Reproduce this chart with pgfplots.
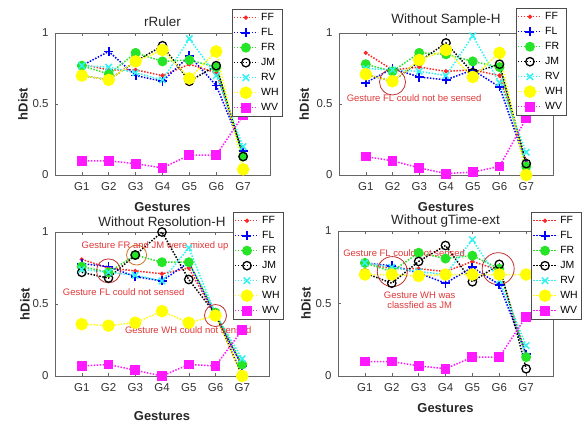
\documentclass[border=0pt]{standalone}
\usepackage{fontspec}
\setmainfont{Liberation Sans}
\usepackage{pgfplots}
\pgfplotsset{compat=1.18}
\usepackage{pgfplotstable}

\definecolor{ffc}{rgb}{1,0.15,0.15}
\definecolor{flc}{rgb}{0,0,1}
\definecolor{frc}{rgb}{0.15,0.9,0.15}
\definecolor{jmc}{rgb}{0,0,0}
\definecolor{rvc}{rgb}{0.2,0.95,0.95}
\definecolor{whc}{rgb}{1,1,0}
\definecolor{wvc}{rgb}{1,0.1,1}
\definecolor{annc}{rgb}{0.88,0.22,0.22}
\definecolor{orc}{rgb}{0.8,0.45,0.15}

\pgfplotstableread{
x FF FL FR JM RV WH WV
1 0.78 0.77 0.77 0.70 0.77 0.70 0.10
2 0.74 0.87 0.71 0.67 0.76 0.67 0.10
3 0.74 0.70 0.86 0.80 0.72 0.80 0.08
4 0.70 0.66 0.80 0.91 0.67 0.88 0.05
5 0.78 0.84 0.81 0.66 0.96 0.68 0.14
6 0.72 0.63 0.76 0.77 0.70 0.87 0.14
7 0.15 0.17 0.13 0.13 0.20 0.04 0.42
}\tabA

\pgfplotstableread{
x FF FL FR JM RV WH WV
1 0.86 0.65 0.78 0.71 0.75 0.71 0.13
2 0.74 0.75 0.73 0.66 0.74 0.66 0.10
3 0.76 0.69 0.86 0.80 0.73 0.81 0.05
4 0.73 0.67 0.85 0.93 0.70 0.88 0.01
5 0.74 0.74 0.80 0.72 0.98 0.69 0.02
6 0.70 0.62 0.76 0.78 0.65 0.86 0.06
7 0.10 0.08 0.06 0.08 0.16 0.00 0.40
}\tabB

\pgfplotstableread{
x FF FL FR JM RV WH WV
1 0.81 0.78 0.76 0.72 0.74 0.36 0.07
2 0.75 0.76 0.72 0.68 0.72 0.35 0.08
3 0.73 0.69 0.84 0.84 0.70 0.37 0.04
4 0.71 0.66 0.79 1.00 0.66 0.45 0.00
5 0.75 0.79 0.79 0.67 0.89 0.37 0.08
6 0.42 0.42 0.44 0.43 0.43 0.42 0.07
7 0.07 0.07 0.08 0.00 0.12 0.00 0.32
}\tabC

\pgfplotstableread{
x FF FL FR JM RV WH WV
1 0.78 0.78 0.78 0.71 0.78 0.70 0.10
2 0.74 0.76 0.72 0.64 0.75 0.70 0.10
3 0.74 0.71 0.85 0.79 0.72 0.69 0.07
4 0.72 0.64 0.81 0.90 0.70 0.70 0.05
5 0.79 0.75 0.83 0.65 0.94 0.70 0.13
6 0.73 0.63 0.74 0.77 0.66 0.70 0.13
7 0.15 0.15 0.13 0.05 0.21 0.70 0.41
}\tabD

\tikzset{
  ann/.style={text=annc, font=\fontsize{9.5}{10.5}\selectfont},
  circ/.style={draw=annc!85!black, line width=0.8bp},
}

\pgfplotsset{
  every axis title shift=0pt,
  dline/.style={line width=1.5bp, dash pattern=on 1.5bp off 1.5bp},
  ffs/.style={dline, color=ffc, mark=*, mark size=1.3bp, mark options={solid}},
  fls/.style={dline, color=flc, mark=+, mark size=4.5bp, mark options={solid, line width=1.8bp}},
  frs/.style={dline, color=frc, mark=*, mark size=4.2bp, mark options={solid, fill=frc}},
  jms/.style={dline, color=jmc, mark=o, mark size=4.2bp, mark options={solid, line width=1.3bp}},
  rvs/.style={dline, color=rvc, mark=x, mark size=4.5bp, mark options={solid, line width=1.5bp}},
  whs/.style={dline, color=whc, mark=*, mark size=5.5bp, mark options={solid, fill=whc}},
  wvs/.style={dline, color=wvc, mark=square*, mark size=4.2bp, mark options={solid, fill=wvc}},
  panel/.style={
    scale only axis,
    xmin=0, xmax=8, ymin=0, ymax=1,
    xtick={1,2,3,4,5,6,7}, xticklabels={G1,G2,G3,G4,G5,G6,G7},
    ytick={0,0.5,1}, yticklabels={0,0.5,1},
    tick align=inside, major tick length=3bp,
    tick style={black!60, line width=0.5bp},
    axis line style={black!60, line width=0.6bp},
    ticklabel style={font=\fontsize{11.5}{13}\selectfont, text=black!80},
    xticklabel style={yshift=-4bp},
    yticklabel style={xshift=-3bp},
    xlabel={Gestures}, ylabel={hDist},
    label style={font=\fontsize{13}{15}\selectfont\bfseries, text=black!85},
    title style={font=\fontsize{13.5}{15}\selectfont, anchor=center, text=black!85},
    legend style={font=\fontsize{10.5}{12}\selectfont, anchor=north west, draw=black!70, fill=white, inner sep=1bp,
      nodes={text height=8bp, text depth=2bp, inner sep=2.5bp}},
    legend cell align=left,
    legend image code/.code={\draw[mark repeat=2,mark phase=2] plot coordinates {(0bp,0bp) (12bp,0bp) (24bp,0bp)};},
    clip=false,
  }
}

\newcommand\plotall[1]{%
  \addplot[ffs] table[x=x,y=FF]{#1}; \addlegendentry{FF}
  \addplot[fls] table[x=x,y=FL]{#1}; \addlegendentry{FL}
  \addplot[frs] table[x=x,y=FR]{#1}; \addlegendentry{FR}
  \addplot[jms] table[x=x,y=JM]{#1}; \addlegendentry{JM}
  \addplot[rvs] table[x=x,y=RV]{#1}; \addlegendentry{RV}
  \addplot[whs] table[x=x,y=WH]{#1}; \addlegendentry{WH}
  \addplot[wvs] table[x=x,y=WV]{#1}; \addlegendentry{WV}
}

\begin{document}
\begin{tikzpicture}[x=1bp,y=1bp]
\useasboundingbox (0,0) rectangle (582,427);

% top-left
\begin{axis}[panel, at={(55bp,252bp)}, anchor=south west, width=215bp, height=142bp,
  title={rRuler}, title style={at={(axis description cs:0.5,1.08)}},
  xlabel style={at={(axis description cs:0.5,-0.225)}, anchor=center},
  ylabel style={at={(axis description cs:-0.149,0.5)}, anchor=center},
  legend style={at={(axis description cs:0.823,1.169)}}]
\plotall{\tabA}
\end{axis}

% top-right
\begin{axis}[panel, at={(339bp,252bp)}, anchor=south west, width=214bp, height=142bp,
  title={Without Sample-H}, title style={at={(axis description cs:0.5,1.09)}},
  xlabel style={at={(axis description cs:0.5,-0.225)}, anchor=center},
  ylabel style={at={(axis description cs:-0.163,0.5)}, anchor=center},
  legend style={at={(axis description cs:0.827,1.176)}}]
\plotall{\tabB}
\draw[circ] (axis cs:2,0.655) circle[radius=13bp];
\node[ann] at (axis cs:2.81,0.54) {Gesture FL could not be sensed};
\end{axis}

% bottom-left
\begin{axis}[panel, at={(55bp,51bp)}, anchor=south west, width=214bp, height=144bp,
  title={Without Resolution-H}, title style={at={(axis description cs:0.5,1.07)}},
  xlabel style={at={(axis description cs:0.5,-0.278)}, anchor=center},
  ylabel style={at={(axis description cs:-0.14,0.5)}, anchor=center},
  legend style={at={(axis description cs:0.832,1.139)}}]
\plotall{\tabC}
\draw[circ] (axis cs:2,0.73) circle[radius=12bp];
\draw[circ, draw=orc] (axis cs:3.05,0.84) circle[radius=10bp];
\draw[circ] (axis cs:6,0.42) circle[radius=11bp];
\node[ann] at (axis cs:3.74,0.90) {Gesture FR and JM were mixed up};
\node[ann] at (axis cs:2.57,0.58) {Gesture FL could not sensed};
\node[ann] at (axis cs:4.98,0.32) {Gesture WH could not sensed};
\end{axis}

% bottom-right
\begin{axis}[panel, at={(338bp,51bp)}, anchor=south west, width=215bp, height=145bp,
  title={Without gTime-ext}, title style={at={(axis description cs:0.5,1.07)}},
  xlabel style={at={(axis description cs:0.5,-0.22)}, anchor=center},
  ylabel style={at={(axis description cs:-0.149,0.5)}, anchor=center},
  legend style={at={(axis description cs:0.898,1.131)}}]
\plotall{\tabD}
\draw[circ] (axis cs:2.02,0.72) circle[radius=15bp];
\draw[circ] (axis cs:5.96,0.74) circle[radius=16bp];
\node[ann] at (axis cs:2.46,0.85) {Gesture FL could not sensed};
\node[ann] at (axis cs:3.04,0.56) {Gesture WH was};
\node[ann] at (axis cs:3.04,0.49) {classfied as JM};
\end{axis}
\end{tikzpicture}
\end{document}
